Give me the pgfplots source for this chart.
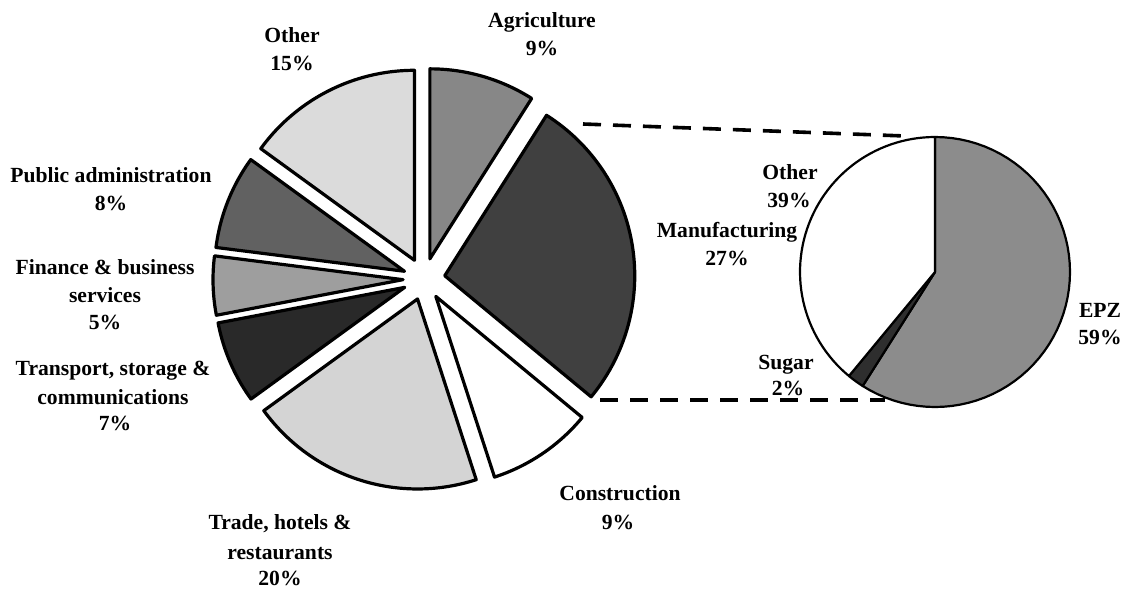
\documentclass[border=0pt]{standalone}
\usepackage{pgfplots}
\pgfplotsset{compat=1.18}
\usepackage{fontspec}
\setmainfont{Liberation Serif}

% #1 cx, #2 cy, #3 radius, #4 explode, #5 start angle, #6 percent, #7 fill, #8 line width
\newcommand\slice[8]{%
  \addplot[draw=black, line width=#8, fill=#7, line join=round,
    domain=#5-3.6*#6:#5, samples=60, variable=\t]
    ({#1+#4*cos(#5-1.8*#6)+#3*cos(\t)}, {#2+#4*sin(#5-1.8*#6)+#3*sin(\t)})
    -- ({#1+#4*cos(#5-1.8*#6)}, {#2+#4*sin(#5-1.8*#6)}) -- cycle;}

\newcommand\lab[3]{\node[anchor=base, inner sep=0pt] at (axis cs:#1,{-(#2+7)}) {#3};}

\begin{document}
\begin{tikzpicture}
\begin{axis}[
  scale only axis, width=564pt, height=295.5pt,
  xmin=0, xmax=1128, ymin=-591, ymax=0,
  hide axis, clip=false,
  font=\fontsize{10.8}{13.5}\selectfont\bfseries,
]
\path (axis cs:0,-591) rectangle (axis cs:1128,0);

% Main pie: share of GDP (%), clockwise from 90 degrees
\slice{424}{-279}{190}{21}{90}{9}{black!47}{1.6pt}      % Agriculture
\slice{424}{-279}{190}{21}{57.6}{27}{black!75}{1.6pt}   % Manufacturing
\slice{424}{-279}{190}{21}{-39.6}{9}{white}{1.6pt}      % Construction
\slice{424}{-279}{190}{21}{-72}{20}{black!17}{1.6pt}    % Trade, hotels & restaurants
\slice{424}{-279}{190}{21}{-144}{7}{black!84}{1.6pt}    % Transport, storage & communications
\slice{424}{-279}{190}{21}{-169.2}{5}{black!38}{1.6pt}  % Finance & business services
\slice{424}{-279}{190}{21}{-187.2}{8}{black!62}{1.6pt}  % Public administration
\slice{424}{-279}{190}{21}{-216}{15}{black!14}{1.6pt}   % Other

% Secondary pie: breakdown of manufacturing (%)
\slice{935}{-272}{135}{0}{90}{59}{black!45}{1.1pt}      % EPZ
\slice{935}{-272}{135}{0}{-122.4}{2}{black!82}{1.1pt}   % Sugar
\slice{935}{-272}{135}{0}{-129.6}{39}{white}{1.1pt}     % Other

% connector lines
\addplot[black, line width=1.8pt, dash pattern=on 9pt off 6pt] coordinates {(583,-124) (905,-136)};
\addplot[black, line width=1.8pt, dash pattern=on 9pt off 6pt] coordinates {(600,-400) (885,-400)};

% labels
\lab{542}{20}{Agriculture}
\lab{542}{48}{9\%}
\lab{292}{35}{Other}
\lab{292}{63}{15\%}
\lab{111}{175}{Public administration}
\lab{111}{203}{8\%}
\lab{105}{267}{Finance \& business}
\lab{105}{295}{services}
\lab{105}{322}{5\%}
\lab{113}{368}{Transport, storage \&}
\lab{113}{397}{communications}
\lab{115}{423}{7\%}
\lab{280}{522}{Trade, hotels \&}
\lab{280}{552}{restaurants}
\lab{280}{578}{20\%}
\lab{620}{493}{Construction}
\lab{618}{522}{9\%}
\lab{727}{230}{Manufacturing}
\lab{727}{258}{27\%}
\lab{790}{172}{Other}
\lab{789}{200}{39\%}
\lab{786}{362}{Sugar}
\lab{788}{388}{2\%}
\lab{1100}{310}{EPZ}
\lab{1100}{337}{59\%}
\end{axis}
\end{tikzpicture}
\end{document}
